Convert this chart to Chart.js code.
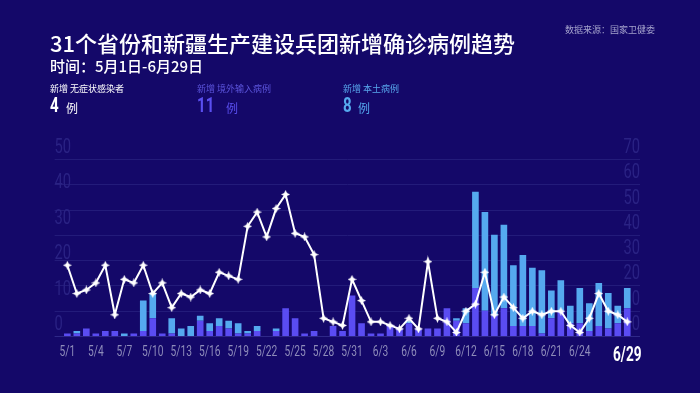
<!DOCTYPE html>
<html><head><meta charset="utf-8">
<script src="https://cdn.jsdelivr.net/npm/chart.js@4/dist/chart.umd.min.js"></script>
<style>
html,body{margin:0;padding:0;background:#140869;width:700px;height:393px;overflow:hidden;}
#wrap{position:relative;width:700px;height:393px;}
canvas{position:absolute;left:0;top:0;}
.t{position:absolute;white-space:nowrap;line-height:1;font-family:"Noto Sans CJK SC","Noto Sans",sans-serif;}
.num{font-family:Roboto,"Noto Sans",sans-serif;font-weight:700;transform:scaleX(0.72);transform-origin:left top;}
</style></head><body>
<div id="wrap">
<canvas id="c" width="700" height="393"></canvas>
<div class="t" style="left:50px;top:31px;font-size:22px;font-weight:500;color:#fff;">31个省份和新疆生产建设兵团新增确诊病例趋势</div>
<div class="t" style="left:50px;top:58px;font-size:15px;font-weight:500;color:#fff;">时间：5月1日-6月29日</div>
<div class="t" style="left:565px;top:25px;font-size:9px;color:#a4a2cc;">数据来源：国家卫健委</div>
<div class="t" style="left:50px;top:84px;font-size:9px;color:#fff;">新增 无症状感染者</div>
<div class="t num" style="left:50px;top:95px;font-size:21px;color:#fff;">4</div>
<div class="t" style="left:66px;top:102px;font-size:12px;color:#fff;">例</div>
<div class="t" style="left:197px;top:84px;font-size:9px;color:#5c55dc;">新增 境外输入病例</div>
<div class="t num" style="left:197px;top:95px;font-size:21px;color:#5a4ff0;">11</div>
<div class="t" style="left:226px;top:102px;font-size:12px;color:#5a4ff0;">例</div>
<div class="t" style="left:343px;top:84px;font-size:9px;color:#58a6ec;">新增 本土病例</div>
<div class="t num" style="left:343px;top:95px;font-size:21px;color:#55a9ef;">8</div>
<div class="t" style="left:358px;top:102px;font-size:12px;color:#55a9ef;">例</div>
</div>
<script>
const categories = ["5/1","5/2","5/3","5/4","5/5","5/6","5/7","5/8","5/9","5/10",
"5/11","5/12","5/13","5/14","5/15","5/16","5/17","5/18","5/19","5/20",
"5/21","5/22","5/23","5/24","5/25","5/26","5/27","5/28","5/29","5/30",
"5/31","6/1","6/2","6/3","6/4","6/5","6/6","6/7","6/8","6/9",
"6/10","6/11","6/12","6/13","6/14","6/15","6/16","6/17","6/18","6/19",
"6/20","6/21","6/22","6/23","6/24","6/25","6/26","6/27","6/28","6/29"];
const asymptomatic = [20,12,13,15,20,6,16,15,20,12, 15,8,12,11,13,12,18,17,16,31,
35,28,36,40,29,28,23,5,4,3, 16,10,4,4,3,2,5,2,21,5,
4,1,7,9,18,6,11,8,5,7, 6,7,7,3,1,5,12,7,6,4];
const imported = [1,1,3,1,2,2,0,1,2,7, 1,1,0,0,6,2,4,3,1,1,
2,0,2,11,7,1,2,0,4,2, 16,5,1,1,4,3,5,3,3,3,
11,6,5,19,10,8,11,4,4,4, 1,7,10,5,5,2,4,3,5,11];
const local = [0,1,0,0,0,0,1,0,12,10, 0,6,3,4,2,3,3,3,4,1,
2,0,1,0,0,0,0,0,0,0, 0,0,0,0,0,0,1,0,0,0,
0,1,6,38,39,32,33,24,28,23, 25,11,12,7,14,11,17,14,7,8];
const xTickLabels = ["5/1","5/4","5/7","5/10","5/13","5/16","5/19","5/22","5/25","5/28","5/31","6/3","6/6","6/9","6/12","6/15","6/18","6/21","6/24","6/29"];
const leftTicks = [0,10,20,30,40,50];
const rightTicks = [0,10,20,30,40,50,60,70];

function starImg(){
  const c=document.createElement('canvas'); c.width=c.height=9;
  const x=c.getContext('2d'); x.fillStyle='#fff'; x.beginPath();
  x.moveTo(4.5,0); x.lineTo(5.9,3.1); x.lineTo(9,4.5); x.lineTo(5.9,5.9);
  x.lineTo(4.5,9); x.lineTo(3.1,5.9); x.lineTo(0,4.5); x.lineTo(3.1,3.1);
  x.closePath(); x.fill(); return c;
}
const star = starImg();

const decor = {
  id:'decor',
  beforeDatasetsDraw(chart){
    const ctx=chart.ctx, a=chart.chartArea, y=chart.scales.y, y1=chart.scales.y1;
    ctx.save();
    rightTicks.forEach(v=>{
      const py=Math.round(y1.getPixelForValue(v))+0.5;
      ctx.strokeStyle = v===0 ? '#2e2888' : '#231b7a';
      ctx.lineWidth=1;
      ctx.beginPath(); ctx.moveTo(a.left-8,py); ctx.lineTo(a.right+8,py); ctx.stroke();
    });
    ctx.fillStyle='#2a2284';
    ctx.font='21px Roboto, sans-serif';
    ctx.textBaseline='alphabetic';
    leftTicks.forEach(v=>{
      const py=y.getPixelForValue(v);
      ctx.save(); ctx.translate(a.left-8,py-6); ctx.scale(0.7,1);
      ctx.textAlign='left'; ctx.fillText(String(v),0,0); ctx.restore();
    });
    rightTicks.forEach(v=>{
      const py=y1.getPixelForValue(v);
      ctx.save(); ctx.translate(a.right+8,py-6); ctx.scale(0.7,1);
      ctx.textAlign='right'; ctx.fillText(String(v),0,0); ctx.restore();
    });
    ctx.restore();
  },
  afterDraw(chart){
    const ctx=chart.ctx, x=chart.scales.x;
    ctx.save();
    ctx.textBaseline='middle'; ctx.textAlign='center';
    xTickLabels.forEach((lab,i)=>{
      const px=x.getPixelForValue(categories.indexOf(lab));
      const last = i===xTickLabels.length-1;
      ctx.save();
      if(last){ ctx.translate(px,356); ctx.font='bold 20px Roboto, sans-serif'; ctx.fillStyle='#ffffff'; }
      else { ctx.translate(px,352); ctx.font='15px Roboto, sans-serif'; ctx.fillStyle='#8e8cba'; }
      ctx.scale(0.68,1);
      ctx.fillText(lab,0,0);
      ctx.restore();
    });
    ctx.restore();
  }
};

new Chart(document.getElementById('c'),{
  data:{
    labels:categories,
    datasets:[
      {type:'line',label:'新增 无症状感染者',data:asymptomatic,yAxisID:'y',order:0,
       borderColor:'#ffffff',borderWidth:2,tension:0,pointStyle:star,pointRadius:4.5,
       pointBackgroundColor:'#fff',pointBorderColor:'#fff'},
      {type:'bar',label:'新增 境外输入病例',data:imported,yAxisID:'y1',order:1,stack:'s',
       backgroundColor:'#5a4cf2',barPercentage:0.7,categoryPercentage:1},
      {type:'bar',label:'新增 本土病例',data:local,yAxisID:'y1',order:1,stack:'s',
       backgroundColor:'#55a9ef',barPercentage:0.7,categoryPercentage:1}
    ]
  },
  options:{
    responsive:false,animation:false,devicePixelRatio:1,
    layout:{padding:{left:62.6,right:68,top:159,bottom:57}},
    plugins:{legend:{display:false},tooltip:{enabled:false}},
    scales:{
      x:{type:'category',offset:true,display:false,stacked:true},
      y:{type:'linear',position:'left',min:0,max:50,display:false},
      y1:{type:'linear',position:'right',min:0,max:70,display:false,stacked:true}
    }
  },
  plugins:[decor]
});
</script>
</body></html>
